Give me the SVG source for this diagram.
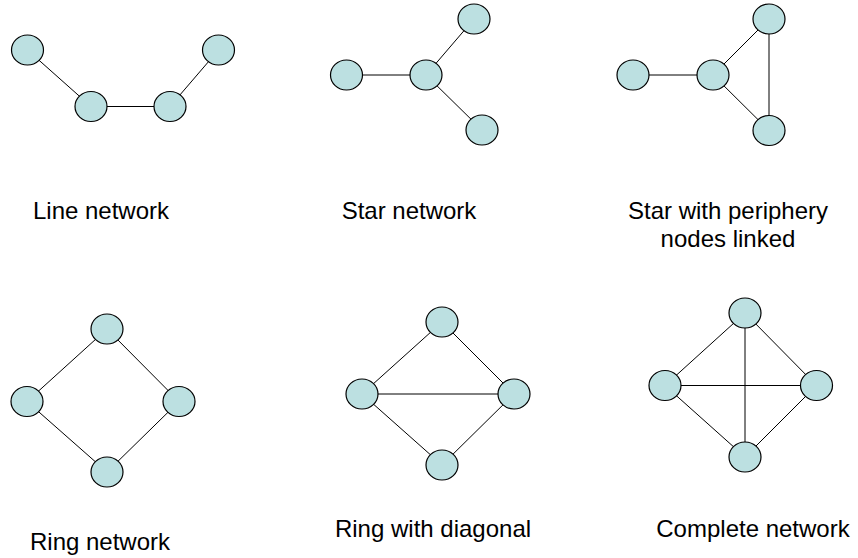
<svg xmlns="http://www.w3.org/2000/svg" width="858" height="558" viewBox="0 0 858 558">
  <style>
    .edge { stroke: #000; stroke-width: 1; fill: none; }
    .node { fill: #BCE0E1; stroke: #000; stroke-width: 1.2; }
    .label { font-family: "Liberation Sans", Arial, sans-serif; font-size: 24px; fill: #000; text-anchor: middle; }
  </style>
  <defs>
    <ellipse id="dot" class="node" cx="0" cy="0" rx="16" ry="15"/>
  </defs>
  <rect width="858" height="558" fill="#fff"/>

  <!-- connectors -->
  <g id="connectors">
    <!-- line network -->
    <line class="edge" x1="27.5" y1="50" x2="91" y2="106.5"/>
    <line class="edge" x1="91" y1="106.5" x2="170" y2="106.5"/>
    <line class="edge" x1="170" y1="106.5" x2="218.5" y2="50"/>
    <!-- star network -->
    <line class="edge" x1="346.5" y1="75" x2="426" y2="75"/>
    <line class="edge" x1="426" y1="75" x2="474" y2="19"/>
    <line class="edge" x1="426" y1="75" x2="482" y2="130"/>
    <!-- star with periphery nodes linked -->
    <line class="edge" x1="633" y1="75" x2="713" y2="75"/>
    <line class="edge" x1="713" y1="75" x2="769" y2="19"/>
    <line class="edge" x1="713" y1="75" x2="769" y2="130.5"/>
    <line class="edge" x1="769" y1="19" x2="769" y2="130.5"/>
    <!-- ring network -->
    <line class="edge" x1="107" y1="329" x2="27" y2="401.5"/>
    <line class="edge" x1="107" y1="329" x2="179" y2="401.5"/>
    <line class="edge" x1="27" y1="401.5" x2="107" y2="472"/>
    <line class="edge" x1="179" y1="401.5" x2="107" y2="472"/>
    <!-- ring with diagonal -->
    <line class="edge" x1="442" y1="322" x2="362" y2="394"/>
    <line class="edge" x1="442" y1="322" x2="514" y2="394"/>
    <line class="edge" x1="362" y1="394" x2="442" y2="465"/>
    <line class="edge" x1="514" y1="394" x2="442" y2="465"/>
    <line class="edge" x1="362" y1="394" x2="514" y2="394"/>
    <!-- complete network -->
    <line class="edge" x1="745" y1="313" x2="665" y2="385.5"/>
    <line class="edge" x1="745" y1="313" x2="816.5" y2="385.5"/>
    <line class="edge" x1="665" y1="385.5" x2="745" y2="457"/>
    <line class="edge" x1="816.5" y1="385.5" x2="745" y2="457"/>
    <line class="edge" x1="665" y1="385.5" x2="816.5" y2="385.5"/>
    <line class="edge" x1="745" y1="313" x2="745" y2="457"/>
  </g>

  <!-- line network nodes -->
  <g id="line-a"><use href="#dot" x="27.5" y="50"/></g>
  <g id="line-b"><use href="#dot" x="91" y="106.5"/></g>
  <g id="line-c"><use href="#dot" x="170" y="106.5"/></g>
  <g id="line-d"><use href="#dot" x="218.5" y="50"/></g>

  <!-- star network nodes -->
  <g id="star-left"><use href="#dot" x="346.5" y="75"/></g>
  <g id="star-hub"><use href="#dot" x="426" y="75"/></g>
  <g id="star-top"><use href="#dot" x="474" y="19"/></g>
  <g id="star-bottom"><use href="#dot" x="482" y="130"/></g>

  <!-- star with linked periphery nodes -->
  <g id="sp-left"><use href="#dot" x="633" y="75"/></g>
  <g id="sp-hub"><use href="#dot" x="713" y="75"/></g>
  <g id="sp-top"><use href="#dot" x="769" y="19"/></g>
  <g id="sp-bottom"><use href="#dot" x="769" y="130.5"/></g>

  <!-- ring network nodes -->
  <g id="ring-top"><use href="#dot" x="107" y="329"/></g>
  <g id="ring-left"><use href="#dot" x="27" y="401.5"/></g>
  <g id="ring-right"><use href="#dot" x="179" y="401.5"/></g>
  <g id="ring-bottom"><use href="#dot" x="107" y="472"/></g>

  <!-- ring with diagonal nodes -->
  <g id="rd-top"><use href="#dot" x="442" y="322"/></g>
  <g id="rd-left"><use href="#dot" x="362" y="394"/></g>
  <g id="rd-right"><use href="#dot" x="514" y="394"/></g>
  <g id="rd-bottom"><use href="#dot" x="442" y="465"/></g>

  <!-- complete network nodes -->
  <g id="cn-top"><use href="#dot" x="745" y="313"/></g>
  <g id="cn-left"><use href="#dot" x="665" y="385.5"/></g>
  <g id="cn-right"><use href="#dot" x="816.5" y="385.5"/></g>
  <g id="cn-bottom"><use href="#dot" x="745" y="457"/></g>

  <!-- captions -->
  <g id="captions">
    <text class="label" x="101" y="219">Line network</text>
    <text class="label" x="409" y="219">Star network</text>
    <text class="label" x="728" y="219">Star with periphery</text>
    <text class="label" x="728" y="247">nodes linked</text>
    <text class="label" x="100" y="550">Ring network</text>
    <text class="label" x="433" y="537">Ring with diagonal</text>
    <text class="label" x="753" y="537">Complete network</text>
  </g>
</svg>
